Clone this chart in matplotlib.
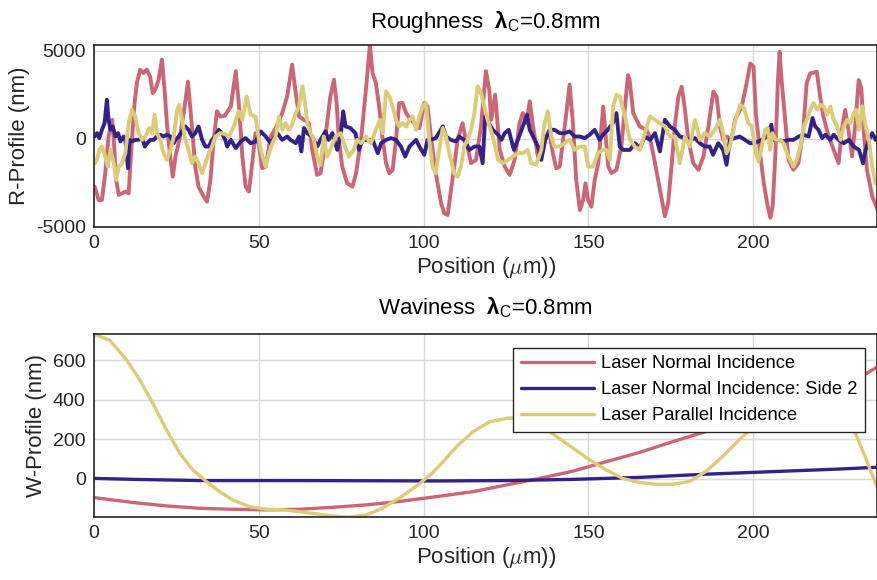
import matplotlib
matplotlib.use("Agg")
import matplotlib.pyplot as plt

plt.rcParams['font.family'] = ['Liberation Sans', 'DejaVu Sans']
plt.rcParams['mathtext.fontset'] = 'custom'
plt.rcParams['mathtext.rm'] = 'Liberation Sans'
plt.rcParams['mathtext.it'] = 'Liberation Sans:italic'
plt.rcParams['mathtext.bf'] = 'Liberation Sans:bold'

PINK = '#CC6677'
BLUE = '#332288'
SAND = '#DDCC77'

labels = ['Laser Normal Incidence', 'Laser Normal Incidence: Side 2', 'Laser Parallel Incidence']

# roughness profiles (position um, height nm)
r_normal_x = [0.2, 1.4, 2.4, 3.4, 4.4, 5.5, 6.0, 6.7, 7.5, 8.5, 9.5, 10.5, 11.5, 12.3, 13.0, 14.0,
              15.0, 16.0, 17.0, 17.8, 18.6, 19.6, 20.6, 21.4, 22.1, 23.1, 23.9, 24.7, 25.9, 27.2,
              28.5, 29.7, 30.7, 31.7, 33.3, 34.3, 35.3, 36.3, 37.3, 38.3, 39.6, 41.5, 43.0, 44.0,
              45.0, 46.0, 47.0, 48.0, 49.0, 50.0, 51.0, 52.1, 53.6, 55.1, 57.1, 58.6, 60.1, 61.2,
              62.2, 63.7, 65.2, 66.2, 67.7, 68.7, 69.7, 70.7, 71.7, 72.8, 73.6, 74.3, 75.3, 76.8,
              78.4, 79.5, 81.0, 82.5, 83.7, 84.5, 85.5, 86.5, 87.6, 88.6, 89.6, 90.6, 91.6, 92.6,
              93.6, 94.7, 95.7, 97.2, 98.7, 100.2, 101.2, 102.2, 103.7, 105.3, 106.3, 107.3, 108.3,
              109.3, 110.3, 111.8, 112.8, 114.4, 115.9, 117.4, 118.9, 119.9, 120.5, 121.7, 123.1,
              124.6, 126.1, 127.6, 129.1, 130.1, 131.2, 132.2, 133.2, 134.7, 135.7, 137.2, 138.2,
              139.2, 140.2, 141.3, 142.3, 143.3, 144.3, 145.3, 146.3, 147.4, 148.4, 149.1, 149.9,
              150.9, 151.9, 153.0, 154.5, 156.0, 157.0, 158.5, 160.0, 161.0, 162.0, 162.5, 163.6,
              164.6, 165.6, 167.6, 168.6, 170.2, 171.7, 173.2, 174.2, 175.3, 176.3, 177.3, 178.3,
              179.3, 180.3, 181.8, 183.4, 184.9, 186.4, 187.9, 188.9, 189.9, 190.9, 191.9, 193.4,
              194.5, 196.5, 198.0, 199.1, 200.1, 200.8, 202.2, 203.2, 204.2, 205.2, 205.9, 206.7,
              207.5, 208.0, 208.6, 209.7, 210.7, 212.2, 213.7, 215.2, 216.2, 217.3, 219.3, 220.3,
              221.3, 222.9, 224.4, 225.9, 226.9, 227.9, 228.9, 230.0, 231.0, 232.0, 232.8, 233.5,
              234.5, 236.1, 237.7]
r_normal_y = [-2720, -3480, -3480, -1960, 130, 1080, -60, -2340, -3190, -3100, -3000, -3100, -60,
              2030, 3170, 3930, 3740, 3930, 3550, 2600, 2790, 3360, 4500, 2790, 890, -1010, -2150,
              -1010, -60, 1460, 3250, 700, -1580, -2720, -3290, -3570, -2340, -60, 1560, 1270, 1300,
              1840, 3840, 1840, -1010, -2720, -3000, -1390, 320, -300, -1670, -1580, 130, 610, 1460,
              2410, 4220, 2600, 1270, 1080, 890, -630, -2050, -1960, -820, 890, 2410, 3360, 2030,
              -60, -1580, -2530, -2720, -1960, -60, 2790, 5330, 3740, 3170, 1840, -60, -1390, -1960,
              -1770, -60, 2030, 2030, 1460, 1180, 890, 610, 2030, 1840, 130, -1960, -3670, -4240,
              -4330, -2910, -1580, -60, 890, -60, -1390, -1200, 700, 3840, 2790, 1080, 2510, -630,
              -1580, -2050, -1200, 890, 1460, 890, 2130, 700, -1010, -440, 130, 320, -820, -1670,
              -1580, -60, 1460, 3080, 890, -2340, -4050, -3480, -2530, -3480, -3860, -2340, -1380,
              1830, -1570, -1950, -1760, -430, 1640, 3620, 3340, 1450, 1080, 700, 510, 130, -1380,
              -2890, -4400, -3640, -1380, 890, 2400, 2960, 1640, -60, -1380, -1760, -1000, 700,
              2680, 2400, 700, -60, 130, -60, 1080, 1830, 3150, 4280, 4090, 1450, -1000, -2510,
              -3640, -4490, -3830, -1000, 3340, 4940, 3340, 1080, -1190, -1760, -1380, 510, 3150,
              3720, 3810, 2400, 1260, 130, -620, -1380, 510, 1640, 510, -1000, 890, 3340, 2870, 510,
              -1760, -3260, -4020]

r_side2_x = [0.2, 0.9, 1.6, 2.4, 3.2, 3.9, 4.4, 5.0, 5.7, 6.5, 7.3, 8.0, 9.0, 9.5, 10.3, 10.7,
             11.5, 12.5, 13.5, 14.6, 15.4, 16.1, 17.1, 18.1, 19.1, 20.1, 21.1, 22.1, 23.2, 24.2,
             24.7, 25.7, 26.7, 27.7, 28.7, 29.7, 30.7, 31.7, 32.8, 33.8, 34.8, 35.8, 36.8, 37.8,
             38.8, 39.8, 40.4, 41.5, 43.0, 44.5, 46.0, 47.5, 49.0, 50.6, 52.1, 53.6, 54.6, 55.6,
             57.1, 58.6, 59.6, 61.2, 62.2, 62.9, 63.7, 64.7, 66.2, 67.7, 68.7, 70.2, 71.2, 72.3,
             73.8, 74.8, 75.6, 76.3, 77.8, 79.3, 80.4, 81.5, 83.0, 84.5, 86.1, 87.1, 88.6, 90.1,
             91.6, 93.1, 94.4, 95.7, 96.7, 97.7, 98.7, 100.2, 101.2, 102.2, 103.7, 105.8, 106.8,
             108.3, 109.8, 110.8, 112.3, 113.9, 115.4, 116.9, 117.9, 118.7, 119.7, 121.0, 122.6,
             123.6, 124.6, 125.8, 126.6, 127.4, 128.6, 130.1, 131.4, 132.2, 133.7, 134.7, 135.7,
             136.9, 138.2, 139.7, 141.3, 142.8, 144.3, 145.8, 147.4, 148.9, 150.4, 151.9, 153.4,
             154.4, 155.9, 157.4, 158.5, 159.5, 160.5, 162.6, 164.1, 165.6, 167.1, 168.7, 170.2,
             171.7, 173.2, 174.7, 176.2, 177.7, 179.3, 180.8, 182.3, 183.8, 185.3, 186.8, 187.8,
             189.4, 190.9, 191.9, 192.9, 194.4, 195.9, 197.5, 199.0, 200.5, 202.6, 204.2, 205.5,
             206.2, 207.7, 209.2, 210.7, 212.2, 213.8, 215.3, 216.8, 218.0, 218.8, 219.8, 220.9,
             221.9, 223.4, 224.4, 225.9, 227.5, 229.0, 230.5, 232.1, 233.3, 234.1, 235.1, 236.1,
             237.1, 237.7]
r_side2_y = [130, 320, 40, 510, 890, 2220, 1080, 510, 700, 130, 320, -150, 130, -60, -1670, -60,
             -150, -60, -60, 40, -440, -250, -60, -60, 130, 230, 130, 230, 130, -250, -60, 130, 420,
             700, 510, 130, 320, 700, -60, -440, -440, -60, 130, 510, 320, -60, -440, -60, -530,
             -150, 40, -250, -150, 420, 130, -250, 40, 320, -60, 130, -60, -250, 130, -720, 610,
             320, 130, -440, -60, 420, -60, 320, -630, 130, 1560, 700, 610, 320, -630, -60, -60,
             -60, -820, -250, -60, 40, -60, -440, -1010, -440, -250, -60, -440, -910, -60, -60, 40,
             700, 130, -60, -150, 130, -60, -630, -440, -440, -1390, 1270, 900, 510, 230, -60, 320,
             510, -60, -630, -60, 700, 1370, 510, -60, -440, -1200, -60, 510, 510, 320, 320, 420,
             130, 130, 40, 230, 510, -60, 230, 510, 890, 1460, -440, -630, -630, -250, -530, 130,
             -60, 320, -720, 1080, 700, 510, 130, 40, -60, 40, -250, -440, -440, -910, -250, -630,
             -1480, -60, 40, 130, -60, -250, -250, -60, 130, 800, -60, -60, -150, -60, -60, 130,
             230, 130, 1180, 700, 510, 40, 230, -60, 230, -60, -250, -60, -440, -630, -1390, -630,
             -60, 320, -60, 130]

r_parallel_x = [0.2, 0.9, 1.6, 2.4, 3.4, 4.2, 5.0, 6.0, 6.7, 7.5, 8.5, 9.5, 10.5, 11.5, 12.5, 13.5,
                14.6, 15.6, 16.8, 17.6, 18.4, 19.1, 20.1, 21.1, 22.1, 23.2, 24.2, 25.2, 25.9, 26.7,
                27.7, 28.7, 29.7, 30.7, 31.7, 32.8, 33.8, 34.8, 35.8, 36.8, 38.3, 39.6, 40.9, 42.4,
                43.9, 45.0, 46.3, 47.5, 49.0, 50.0, 51.1, 52.1, 53.1, 54.1, 55.1, 56.1, 57.1, 58.1,
                59.1, 60.1, 61.2, 62.2, 63.2, 63.9, 64.7, 65.7, 66.7, 67.7, 68.7, 69.7, 70.7, 71.7,
                73.3, 74.8, 75.8, 77.3, 78.8, 79.8, 81.0, 82.5, 84.0, 85.5, 86.8, 87.6, 88.6, 89.6,
                90.6, 91.6, 92.6, 93.6, 94.7, 95.7, 96.7, 97.7, 98.7, 99.7, 100.7, 101.7, 102.7,
                103.7, 104.7, 105.8, 106.8, 107.8, 109.3, 110.3, 111.3, 112.3, 113.3, 114.4, 115.4,
                116.4, 117.4, 118.4, 119.4, 121.0, 122.6, 124.1, 125.6, 127.1, 128.6, 130.1, 131.6,
                132.6, 134.2, 135.7, 136.7, 137.7, 138.7, 139.7, 141.3, 142.8, 144.3, 145.8, 147.4,
                148.9, 149.9, 151.4, 152.9, 154.4, 155.4, 156.5, 157.5, 158.5, 159.5, 161.1, 162.6,
                164.1, 165.6, 167.1, 168.7, 170.2, 171.7, 173.2, 174.7, 176.2, 177.7, 179.3, 180.8,
                182.3, 183.8, 185.3, 186.8, 188.4, 189.9, 190.9, 191.9, 192.9, 194.4, 196.0, 197.2,
                198.5, 199.6, 200.8, 201.6, 202.6, 203.6, 204.4, 205.1, 205.8, 206.8, 208.2, 209.2,
                210.2, 211.2, 212.2, 213.2, 214.3, 215.3, 216.3, 217.3, 218.3, 219.4, 220.4, 221.4,
                222.4, 223.4, 224.4, 225.5, 226.5, 227.5, 228.5, 229.5, 230.5, 231.2, 232.1, 233.1,
                234.1, 235.1, 236.1, 237.1, 237.7]
r_parallel_y = [-1390, -1200, -630, -440, -1010, -1580, -630, -1390, -2340, -1580, -1390, -820, 890,
                1650, 1270, 320, -60, 130, 610, 320, 1370, 320, -60, -820, -1200, -630, 130, 1650,
                1940, 1080, -60, -630, -1390, -1010, -1390, -1960, -1390, -820, -440, 130, 320,
                280, 130, 700, 1560, 1080, 2410, 1370, 1270, -60, -1010, -1580, -820, -250, 130,
                1270, 510, 890, 510, 800, 1460, 1840, 2980, 2220, 890, 320, -60, -1010, -1480, 130,
                -1010, -630, 130, 320, -250, -1010, -630, -60, -250, 130, -250, 510, 1080, 320, 2700,
                2410, 1840, 1080, 700, 890, 700, 1080, 1270, 510, 1270, 1840, 2030, -60, -1580,
                -1960, -630, 610, 130, -820, -1960, -2150, -1580, -440, -60, 510, 1460, 2980, 2600,
                1840, 1080, 130, -1200, -1390, -1200, -1010, -820, -820, -630, -1390, -1480, -630,
                890, 1560, 130, -440, -440, -250, -60, -630, -440, -440, -1580, -1580, -820, -630,
                -630, -1200, 1840, 2510, 2410, 1270, -60, -440, -630, 320, 1270, 1080, 890, 700, 130,
                130, -1390, 130, -440, 1080, -60, 320, 130, 510, 1080, 320, -820, -440, 890, 1940,
                1750, 890, 700, -820, -1300, -440, 510, 610, -630, 320, -60, -60, -250, -820, -1200,
                -1580, -1200, -440, 700, 1080, 1650, 2030, 1650, 1940, 1840, 1370, 1840, 1080, 700,
                -60, 700, 1080, 890, 1460, 1650, 510, 1840, 700, -60, -1580, -2530, -2530]

# waviness profiles (position um, height nm)
w_normal_x = [0, 11.9, 22.0, 32.1, 42.1, 52.2, 62.3, 72.4, 82.5, 92.5, 102.6, 115.0, 125.2, 135.3,
              145.4, 155.4, 165.5, 175.5, 185.6, 195.0, 205.0, 215.0, 225.0, 234.4, 237.7]
w_normal_y = [-94, -119, -136, -148, -153, -156, -153, -143, -131, -114, -92, -64, -30, 3, 40, 87,
              134, 188, 239, 295, 360, 425, 485, 533, 566]

w_side2_x = [0, 11.9, 22.0, 32.1, 60.0, 104.9, 125.2, 145.4, 165.5, 185.6, 205.8, 226.0, 237.7]
w_side2_y = [3, -2, -5, -8, -8, -10, -8, -2, 8, 24, 37, 50, 59]

w_parallel_x = [0, 4.8, 9.9, 13.9, 17.9, 22.0, 26.0, 30.0, 34.1, 38.1, 42.1, 47.2, 52.2, 57.3,
                62.3, 67.3, 72.4, 77.4, 82.5, 87.5, 92.5, 97.6, 102.6, 105.0, 110.0, 115.0, 120.1,
                125.2, 129.0, 133.0, 138.2, 145.4, 150.4, 155.4, 160.4, 165.5, 170.5, 175.5, 180.6,
                185.6, 190.7, 195.7, 199.2, 204.0, 209.0, 214.0, 218.0, 222.0, 226.0, 230.8, 234.0,
                237.7]
w_parallel_y = [730, 700, 600, 500, 380, 247, 130, 45, -13, -64, -106, -140, -153, -156, -165, -176,
                -187, -192, -182, -148, -97, -39, 29, 70, 163, 239, 289, 306, 310, 295, 239, 155, 96,
                45, 3, -18, -27, -27, -13, 37, 113, 197, 250, 350, 450, 520, 545, 520, 430, 239, 110,
                -47]

fig = plt.figure(figsize=(8.78, 5.80), dpi=100)
ax1 = fig.add_axes([0.1071, 0.609, 0.8923, 0.3134])
ax2 = fig.add_axes([0.1071, 0.1086, 0.8923, 0.315])

TXT = '#262626'


def style(ax):
    ax.grid(True, color='#d9d9d9', linewidth=1.0)
    ax.set_axisbelow(True)
    for s in ax.spines.values():
        s.set_color(TXT)
        s.set_linewidth(1.2)
    ax.tick_params(length=0, labelsize=14, colors=TXT, pad=6)
    ax.set_xlim(0, 237.7)
    ax.set_xticks([0, 50, 100, 150, 200])
    ax.set_xlabel(r'Position ($\mu$m))', fontsize=16, color=TXT, math_fontfamily='cm', labelpad=2)


kw_r = dict(lw=2.8, solid_joinstyle='round', solid_capstyle='round')
kw_w = dict(lw=2.4, solid_joinstyle='round', solid_capstyle='round')
ax1.plot(r_normal_x, r_normal_y, color=PINK, **kw_r)
ax1.plot(r_side2_x, r_side2_y, color=BLUE, **kw_r)
ax1.plot(r_parallel_x, r_parallel_y, color=SAND, **kw_r)
style(ax1)
ax1.set_ylim(-5000, 5330)
ax1.set_yticks([-5000, 0, 5000])
ax1.set_yticklabels(['-5000', '0', '5000'])
ax1.set_ylabel('R-Profile (nm)', fontsize=16, color=TXT, labelpad=4)
ax1.set_title(r'Roughness  $\boldsymbol{\lambda}_\mathrm{C}$=0.8mm', fontsize=16, pad=12)

ax2.plot(w_normal_x, w_normal_y, color=PINK, label=labels[0], **kw_w)
ax2.plot(w_side2_x, w_side2_y, color=BLUE, label=labels[1], **kw_w)
ax2.plot(w_parallel_x, w_parallel_y, color=SAND, label=labels[2], **kw_w)
style(ax2)
ax2.set_ylim(-192, 730)
ax2.set_yticks([0, 200, 400, 600])
ax2.set_ylabel('W-Profile (nm)', fontsize=16, color=TXT, labelpad=4)
ax2.set_title(r'Waviness  $\boldsymbol{\lambda}_\mathrm{C}$=0.8mm', fontsize=16, pad=14)
leg = ax2.legend(loc='upper right', bbox_to_anchor=(0.984, 0.927), fontsize=13.2, fancybox=False,
                 framealpha=1, edgecolor=TXT, handlelength=4.0, handletextpad=0.35,
                 labelspacing=0.48, borderpad=0.42, borderaxespad=0)
leg.get_frame().set_linewidth(1.0)

fig.savefig('out.png', dpi=100)
